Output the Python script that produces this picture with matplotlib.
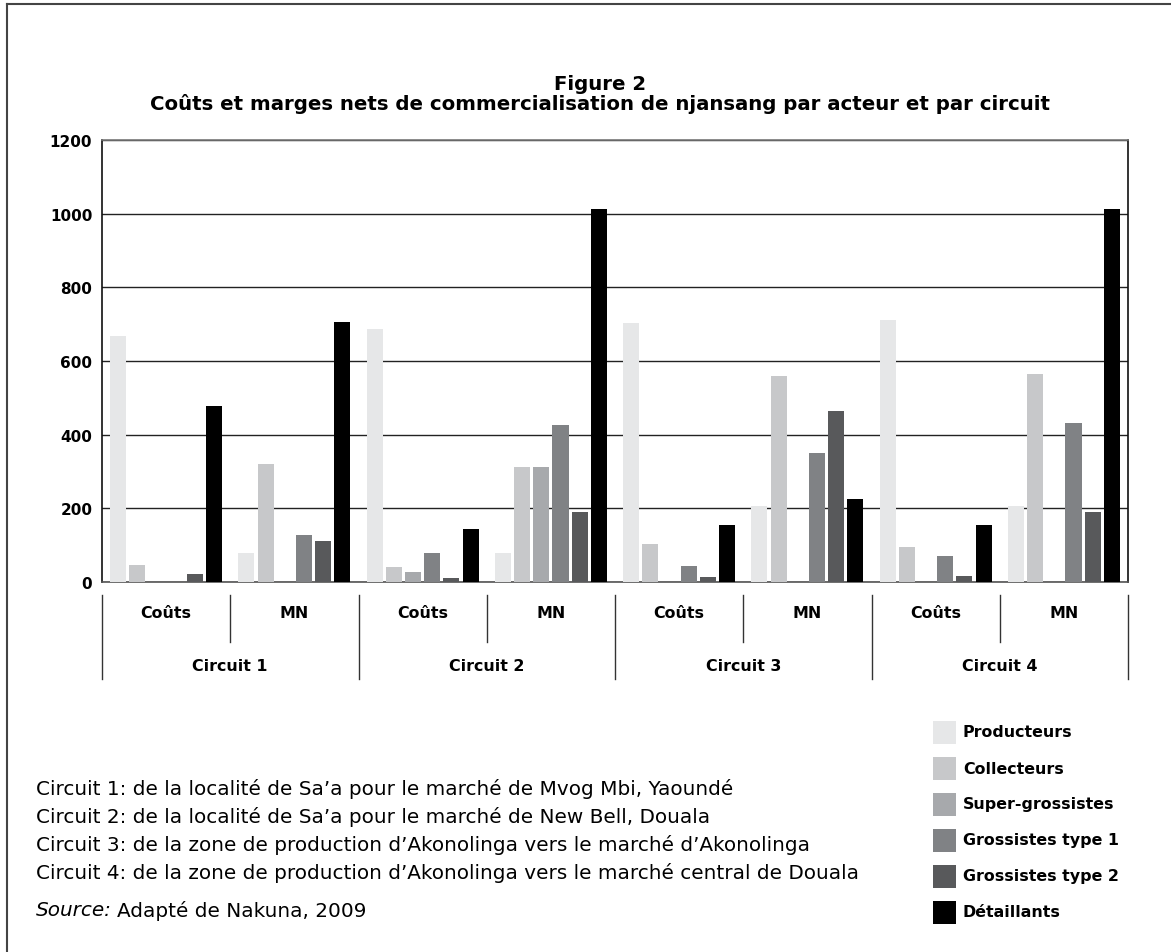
import matplotlib
matplotlib.use("Agg")
import matplotlib.pyplot as plt
from matplotlib.patches import Rectangle
from matplotlib.lines import Line2D
import numpy as np

plt.rcParams['font.family'] = ['DejaVu Sans']

# groups: Circuit 1 Coûts, Circuit 1 MN, Circuit 2 Coûts, ... Circuit 4 MN
sub_labels = ["Coûts", "MN"]
circuits = ["Circuit 1", "Circuit 2", "Circuit 3", "Circuit 4"]
actors = ["Producteurs", "Collecteurs", "Super-grossistes",
          "Grossistes type 1", "Grossistes type 2", "Détaillants"]

producteurs = [669, 80, 686, 80, 702, 207, 710, 207]
collecteurs = [45, 320, 42, 313, 104, 558, 96, 566]
super_grossistes = [0, 0, 28, 313, 0, 0, 0, 0]
grossistes1 = [0, 128, 80, 427, 44, 351, 71, 433]
grossistes2 = [23, 112, 12, 191, 14, 463, 15, 191]
detaillants = [479, 707, 145, 1014, 156, 224, 156, 1014]

yticks = [0, 200, 400, 600, 800, 1000, 1200]

notes = [
    "Circuit 1: de la localité de Sa’a pour le marché de Mvog Mbi, Yaoundé",
    "Circuit 2: de la localité de Sa’a pour le marché de New Bell, Douala",
    "Circuit 3: de la zone de production d’Akonolinga vers le marché d’Akonolinga",
    "Circuit 4: de la zone de production d’Akonolinga vers le marché central de Douala",
]

series = [producteurs, collecteurs, super_grossistes, grossistes1, grossistes2, detaillants]
colors = ["#e6e7e8", "#c7c8ca", "#a7a9ac", "#808285", "#58595b", "#000000"]

W, H = 1171, 953
fig = plt.figure(figsize=(W / 100, H / 100), dpi=100)
ax = fig.add_axes([102 / W, 1 - 583 / H, 1026 / W, 442 / H])

ngroups = len(producteurs)
base = np.arange(ngroups)
for i, vals in enumerate(series):
    ax.bar(base + 0.125 + 0.15 * i, vals, width=0.125, color=colors[i], zorder=3)

ax.set_xlim(0, ngroups)
ax.set_ylim(0, 1200)
ax.set_yticks(yticks)
ax.set_yticklabels([str(t) for t in yticks], fontweight='bold', fontsize=11)
ax.tick_params(axis='y', length=0, pad=7)
ax.set_xticks([])
ax.yaxis.grid(True, color='#222222', lw=1)
ax.set_axisbelow(True)
ax.spines['left'].set_color('#111111')
ax.spines['right'].set_color('#111111')
ax.spines['top'].set_color('#777777')
ax.spines['bottom'].set_color('#555555')
for s in ax.spines.values():
    s.set_linewidth(1.2)

# category labels under the axis (axes fraction below 0)
sep_top, sep_short, sep_long = -0.030, -0.136, -0.219
for g in range(ngroups):
    ax.text(g + 0.5, -0.070, sub_labels[g % 2], transform=ax.get_xaxis_transform(),
            ha='center', va='center', fontweight='bold', fontsize=11.4)
for c in range(len(circuits)):
    ax.text(2 * c + 1, -0.190, circuits[c], transform=ax.get_xaxis_transform(),
            ha='center', va='center', fontweight='bold', fontsize=11.4)
for g in range(ngroups + 1):
    bottom = sep_long if g % 2 == 0 else sep_short
    ax.axvline(g, ymin=bottom, ymax=sep_top, color='#333333', lw=1, clip_on=False)

# title
fig.text(600 / W, 1 - 84 / H, "Figure 2", ha='center', va='center',
         fontweight='bold', fontsize=14.2)
fig.text(600 / W, 1 - 104 / H,
         "Coûts et marges nets de commercialisation de njansang par acteur et par circuit",
         ha='center', va='center', fontweight='bold', fontsize=14.2)

# notes
for k, line in enumerate(notes):
    fig.text(36 / W, 1 - (789 + 28 * k) / H, line, ha='left', va='center', fontsize=14.4)
src = fig.text(36 / W, 1 - 911 / H, "Source:", ha='left', va='center',
               fontsize=14.4, fontstyle='italic')
fig.canvas.draw()
bb = src.get_window_extent(fig.canvas.get_renderer())
fig.text(bb.x1 / W + 5 / W, 1 - 911 / H, "Adapté de Nakuna, 2009", ha='left',
         va='center', fontsize=14.4)

# legend, drawn by hand
for i, (lab, col) in enumerate(zip(actors, colors)):
    yc = 733 + 36 * i
    fig.add_artist(Rectangle((933 / W, 1 - (yc + 11.5) / H), 23 / W, 23 / H,
                             transform=fig.transFigure, facecolor=col, edgecolor='none'))
    fig.text(963 / W, 1 - yc / H, lab, ha='left', va='center',
             fontweight='bold', fontsize=11.4)

# figure frame (left and top only)
fig.add_artist(Line2D([7 / W, 7 / W], [0, 1 - 5 / H], color='#444444', lw=1.5))
fig.add_artist(Line2D([7 / W, 1], [1 - 5 / H, 1 - 5 / H], color='#444444', lw=1.5))

fig.savefig("out.png", dpi=100)
